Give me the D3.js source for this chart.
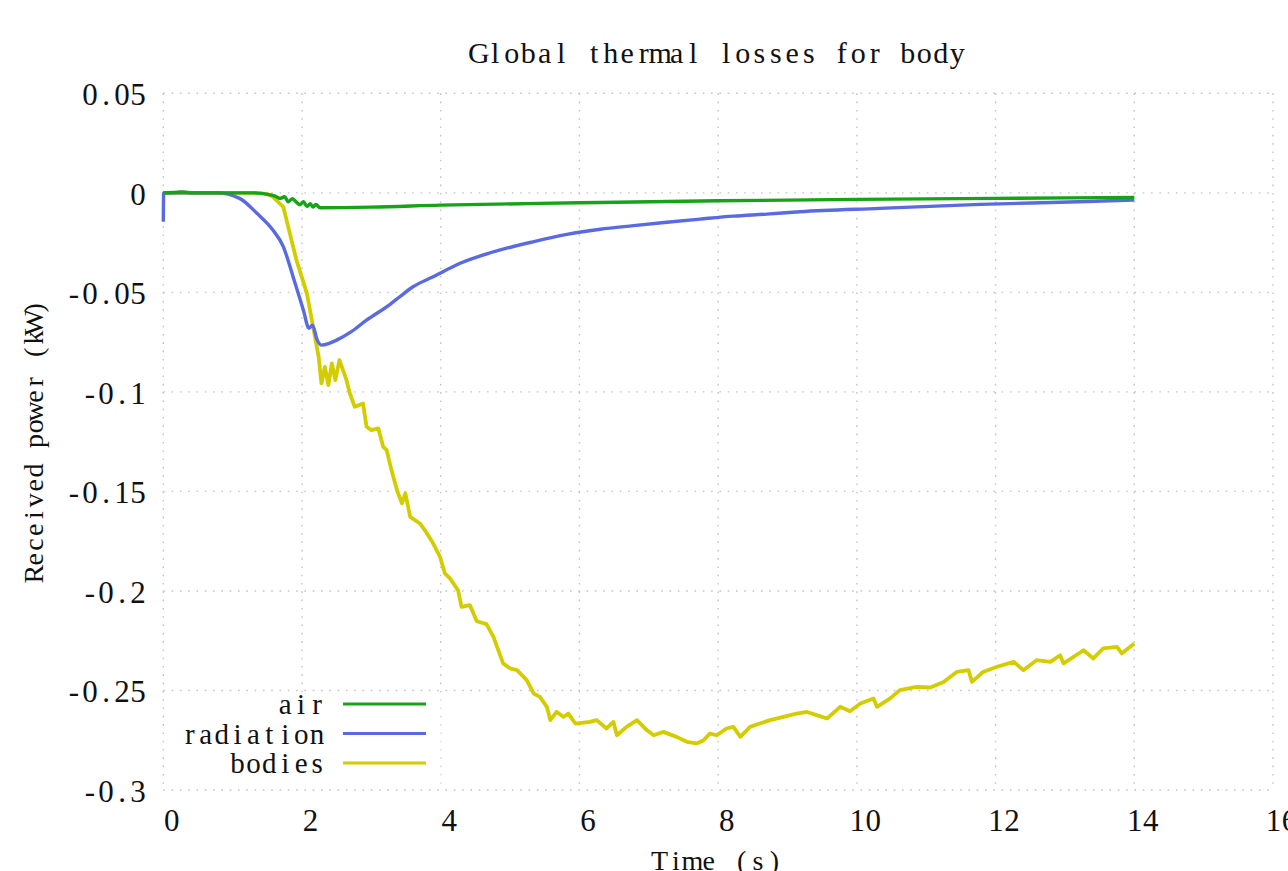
<!DOCTYPE html>
<html>
<head>
<meta charset="utf-8">
<script src="https://cdn.jsdelivr.net/npm/d3@7/dist/d3.min.js"></script>
<style>
  html, body { margin: 0; padding: 0; background: #fff; overflow: hidden; }
  svg { display: block; }
  text { font-family: "Liberation Serif", "DejaVu Serif", serif; fill: #111; }
</style>
</head>
<body>
<svg id="chart" width="1288" height="871"></svg>
<script>
// ---------- data ----------
const title = "Global thermal losses for body";
const xLabel = "Time (s)";
const yLabel = "Received power (kW)";
const xTicks = [0, 2, 4, 6, 8, 10, 12, 14, 16];
const yTicks = [0.05, 0, -0.05, -0.1, -0.15, -0.2, -0.25, -0.3];
const yTickLabels = ["0.05", "0", "-0.05", "-0.1", "-0.15", "-0.2", "-0.25", "-0.3"];
const seriesNames = ["air", "radiation", "bodies"];
const seriesColors = ["#17a317", "#5a6ae0", "#d3cd00"];

const airT = [0, 0.2, 0.3, 0.4, 1.3, 1.54, 1.62, 1.68, 1.75, 1.8, 1.86, 1.9, 1.97, 2.02, 2.07, 2.12, 2.16, 2.2, 2.26, 3, 4, 6, 8, 10, 12, 14];
const airV = [0, 0.0003, 0.0005, 0, 0, -0.001, -0.0018, -0.0028, -0.002, -0.0045, -0.003, -0.004, -0.006, -0.0045, -0.0068, -0.0055, -0.0072, -0.0058, -0.0075, -0.0072, -0.0062, -0.005, -0.004, -0.0033, -0.0028, -0.0023];

const radT = [0, 0.005, 0.77, 1.1, 1.35, 1.58, 1.73, 1.87, 2.02, 2.1, 2.15, 2.22, 2.28, 2.4, 2.5, 2.7, 2.93, 3.27, 3.41, 3.6, 3.89, 4.28, 4.86, 5.33, 5.82, 6.3, 6.78, 7.26, 7.74, 8.22, 8.7, 9.18, 10.33, 11.78, 13.2, 14];
const radV = [-0.0145, 0, 0, -0.0028, -0.0103, -0.0187, -0.027, -0.042, -0.059, -0.068, -0.0665, -0.074, -0.0765, -0.0755, -0.074, -0.07, -0.064, -0.0560, -0.0522, -0.0472, -0.0422, -0.0354, -0.0287, -0.0246, -0.0209, -0.0183, -0.0165, -0.0148, -0.0132, -0.0117, -0.0107, -0.0095, -0.0078, -0.0058, -0.0045, -0.0036];

const bodT = [0, 1.3, 1.49, 1.58, 1.73, 1.8, 1.92, 2.07, 2.16, 2.24, 2.28, 2.33, 2.38, 2.43, 2.48, 2.54, 2.64, 2.69, 2.76, 2.88, 2.93, 3.0, 3.1, 3.17, 3.22, 3.29, 3.37, 3.44, 3.49, 3.56, 3.7, 3.77, 3.89, 3.99, 4.06, 4.13, 4.25, 4.3, 4.42, 4.52, 4.66, 4.76, 4.9, 5.0, 5.1, 5.24, 5.34, 5.43, 5.53, 5.58, 5.67, 5.77, 5.84, 5.94, 6.15, 6.25, 6.39, 6.49, 6.54, 6.68, 6.83, 6.97, 7.07, 7.21, 7.4, 7.55, 7.69, 7.79, 7.88, 7.98, 8.12, 8.22, 8.32, 8.46, 8.6, 8.75, 8.94, 9.13, 9.28, 9.42, 9.57, 9.76, 9.9, 10.05, 10.24, 10.29, 10.48, 10.62, 10.86, 11.06, 11.25, 11.44, 11.61, 11.66, 11.82, 12.02, 12.26, 12.4, 12.59, 12.79, 12.93, 12.98, 13.27, 13.41, 13.55, 13.75, 13.82, 14.0];
const bodV = [0, 0, -0.0005, -0.002, -0.007, -0.017, -0.0338, -0.0505, -0.0673, -0.0824, -0.0957, -0.0874, -0.0966, -0.0857, -0.0941, -0.084, -0.094, -0.1008, -0.1075, -0.1058, -0.1175, -0.1192, -0.1183, -0.1276, -0.1292, -0.1393, -0.1494, -0.156, -0.151, -0.1628, -0.1661, -0.1694, -0.1761, -0.1829, -0.1912, -0.1936, -0.1996, -0.208, -0.2071, -0.2152, -0.2167, -0.2231, -0.2364, -0.2389, -0.2398, -0.2448, -0.2515, -0.2532, -0.2582, -0.2649, -0.2607, -0.2633, -0.2616, -0.2666, -0.2658, -0.2649, -0.2691, -0.2658, -0.2725, -0.2683, -0.2649, -0.2699, -0.2725, -0.2708, -0.2733, -0.2758, -0.2766, -0.275, -0.2716, -0.2725, -0.2691, -0.2683, -0.2733, -0.2683, -0.2666, -0.2649, -0.2633, -0.2616, -0.2608, -0.2624, -0.2641, -0.2582, -0.2604, -0.2565, -0.254, -0.2582, -0.254, -0.2498, -0.2482, -0.2485, -0.2457, -0.2407, -0.2398, -0.2457, -0.2407, -0.2381, -0.2356, -0.2398, -0.2348, -0.2356, -0.2323, -0.2364, -0.2298, -0.2339, -0.2289, -0.2281, -0.2314, -0.2264];

// ---------- layout ----------
const svg = d3.select("#chart");
const x = d3.scaleLinear().domain([0, 16]).range([163.3, 1273]);
const y = d3.scaleLinear().domain([-0.3, 0.05]).range([790, 93.3]);
const CW = 16; // character advance of the reference (monospaced) font

// draws a string on a fixed character grid, each glyph centred in its cell
function mono(g, str, px, py, anchor, cw, size) {
  const len = str.length * cw;
  let sx = px;
  if (anchor === "middle") sx = px - len / 2;
  else if (anchor === "end") sx = px - len;
  const t = g.append("text").attr("y", py).attr("font-size", size || 28)
    .attr("text-anchor", "middle");
  str.split("").forEach((ch, i) => {
    if (ch === " ") return;
    t.append("tspan").attr("x", sx + (i + 0.5) * cw).attr("y", py).text(ch);
  });
  return t;
}

// grid
const grid = svg.append("g").attr("stroke", "#c4c4c4").attr("stroke-width", 1.4)
  .attr("stroke-dasharray", "1.6,6.7");
grid.selectAll("line.v").data(xTicks).join("line")
  .attr("x1", d => x(d)).attr("x2", d => x(d))
  .attr("y1", y(0.05)).attr("y2", y(-0.3));
grid.selectAll("line.h").data(yTicks).join("line")
  .attr("y1", d => y(d)).attr("y2", d => y(d))
  .attr("x1", x(0)).attr("x2", x(16));

// tick labels
const tl = svg.append("g");
xTicks.forEach(t => mono(tl, String(t), x(t) + 8.5, 831, "middle", CW, 31));
yTicks.forEach((t, i) => mono(tl, yTickLabels[i], 146, y(t) + 12, "end", CW, 31));

// title and axis labels
mono(svg, title, 718, 63, "middle", 16.5, 30);
mono(svg, xLabel, 717, 870, "middle", 16.4, 28);
const yl = svg.append("g").attr("transform", "translate(43,441) rotate(-90)");
mono(yl, yLabel, 0, 0, "middle", 14.8, 28);

// series
const seriesData = [
  airT.map((t, i) => [t, airV[i]]),
  radT.map((t, i) => [t, radV[i]]),
  bodT.map((t, i) => [t, bodV[i]])
];
const curves = [d3.curveMonotoneX, d3.curveMonotoneX, d3.curveLinear];
const widths = [3.4, 3.4, 3.8];
const lines = svg.append("g").attr("fill", "none").attr("stroke-linejoin", "round");
[2, 1, 0].forEach(k => {
  lines.append("path")
    .attr("d", d3.line().x(d => x(d[0])).y(d => y(d[1])).curve(curves[k])(seriesData[k]))
    .attr("stroke", seriesColors[k])
    .attr("stroke-width", widths[k]);
});

// legend
const lg = svg.append("g");
lg.append("rect").attr("x", 165.5).attr("y", 692.5).attr("width", 275).attr("height", 95).attr("fill", "#fff");
const legendY = [704, 733.5, 763];
seriesNames.forEach((n, i) => {
  mono(lg, n, 325, legendY[i] + 10, "end", 15.9, 29);
  lg.append("line").attr("x1", 343).attr("x2", 426)
    .attr("y1", legendY[i]).attr("y2", legendY[i])
    .attr("stroke", seriesColors[i]).attr("stroke-width", 3);
});
</script>
</body>
</html>
